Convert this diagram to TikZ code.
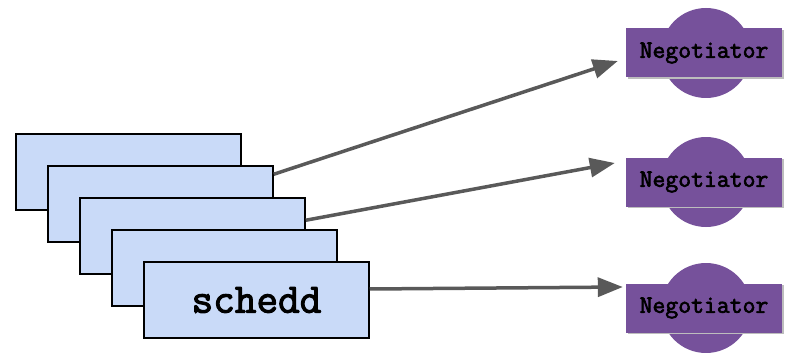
\documentclass[tikz,border=0pt]{standalone}
\usepackage{fontspec}
\newfontfamily\slabmono[FakeBold=2.5]{Latin Modern Mono}
\usetikzlibrary{arrows.meta}
\definecolor{schedfill}{HTML}{C9DAF8}
\definecolor{negfill}{HTML}{76519B}
\definecolor{negshadow}{HTML}{BDBDBD}
\definecolor{linkgray}{HTML}{595959}
\begin{document}
\begin{tikzpicture}[x=1pt,y=-1pt,
  schedbox/.style={draw=black, line width=1.5pt, fill=schedfill,
    minimum width=225pt, minimum height=76pt, inner sep=0pt,
    font=\slabmono\fontsize{42}{44}\selectfont},
  negrect/.style={fill=negfill, minimum width=156pt, minimum height=49pt,
    inner sep=0pt, font=\slabmono\fontsize{25}{27}\selectfont},
  negdisc/.style={fill=negfill},
  link/.style={draw=linkgray, line width=3.5pt,
    -{Triangle[length=25pt,width=19pt]}}]
\useasboundingbox (0,0) rectangle (785,353);

% stacked schedd boxes, back to front
\node[schedbox] (b1) at (128.5,172) {};
\node[schedbox] (b2) at (160.5,204) {};
\node[schedbox] (b3) at (192.5,236) {};
\node[schedbox] (b4) at (224.5,268) {};
\node[schedbox] (b5) at (256.5,300) {schedd};

% negotiators: a disc behind a banner
\foreach \i/\cy in {1/53,2/182,3/308}{
  \fill[negdisc] (706,\cy) circle (45pt);
  \fill[negshadow] (627.5,\cy-23) rectangle (783.5,\cy+26);
  \node[negrect] (n\i) at (704,\cy) {Negotiator};
}

% links from the schedds to the negotiators
\draw[link] ([yshift=-9pt]b2.north east) -- ([xshift=-8pt,yshift=-8pt]n1.west);
\draw[link] ([yshift=-23pt]b3.north east) -- ([xshift=-11pt,yshift=19pt]n2.west);
\draw[link] ([yshift=11pt]b5.east) -- ([xshift=-3pt,yshift=21pt]n3.west);
\end{tikzpicture}
\end{document}
